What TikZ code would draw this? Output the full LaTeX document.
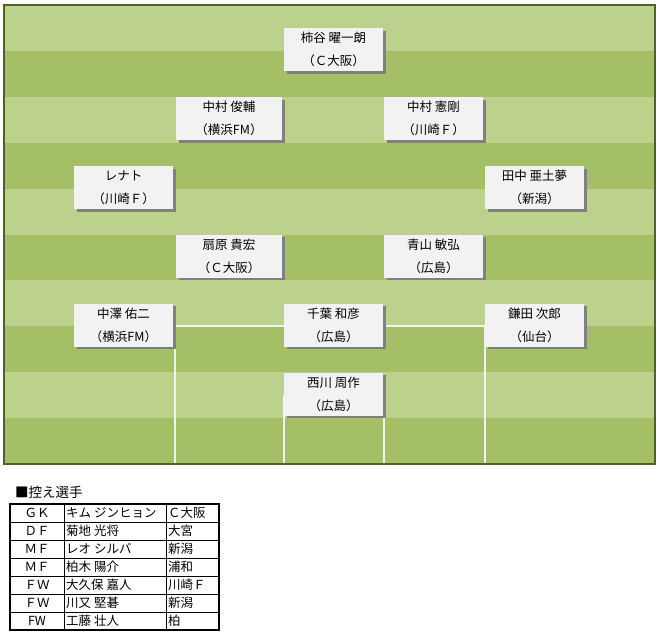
\documentclass[tikz,border=0pt]{standalone}
\usepackage{fontspec}
\newfontfamily\jp{Noto Sans CJK JP}
\usetikzlibrary{shadows}
\definecolor{lightg}{HTML}{BCD28C}
\definecolor{darkg}{HTML}{A5BF67}
\definecolor{fieldborder}{HTML}{4F6228}
\definecolor{boxfill}{HTML}{F2F2F2}
\definecolor{shadowc}{HTML}{808080}
\definecolor{linec}{HTML}{F2F2F2}
\begin{document}
\begin{tikzpicture}[x=1pt,y=-1pt,
  pbox/.style={fill=boxfill, minimum width=99pt, minimum height=43pt, inner sep=0pt,
    align=center, font=\jp\fontsize{12.5}{23}\selectfont,
    general shadow={fill=shadowc, shadow xshift=2.5pt, shadow yshift=-2.5pt}},
  wbox/.style={pbox, minimum width=106pt},
  fieldline/.style={draw=linec, line width=1.6pt},
  tcell/.style={inner sep=0pt, font=\jp\fontsize{12.5}{14}\selectfont},
  tleft/.style={tcell, anchor=west},
  thin/.style={line width=0.8pt},
  thick/.style={line width=2pt}]
\useasboundingbox (0,0) rectangle (660,637);
\fill[white] (0,0) rectangle (660,637);
% field stripes
\foreach \i in {0,...,9} {
  \pgfmathsetmacro{\ya}{5+45.9*\i}
  \pgfmathsetmacro{\yb}{5+45.9*(\i+1)}
  \ifodd\i
    \fill[darkg] (4,\ya) rectangle (655,\yb);
  \else
    \fill[lightg] (4,\ya) rectangle (655,\yb);
  \fi
}
% penalty and goal area lines
\draw[fieldline] (175,464) -- (175,326) -- (485,326) -- (485,464);
\draw[fieldline] (284,464) -- (284,395);
\draw[fieldline] (384,464) -- (384,395);
\draw[draw=fieldborder, line width=1.2pt] (4,5) rectangle (655,464);
% players
\node[pbox] (kakitani)  at (333.5,49.5) {柿谷 曜一朗\\（Ｃ大阪）};
\node[wbox] (nakamuraS) at (229,118.5) {中村 俊輔\\（横浜FM）};
\node[pbox] (nakamuraK) at (433.5,118.5) {中村 憲剛\\（川崎Ｆ）};
\node[pbox] (renato)    at (123.5,187.5) {レナト\\（川崎Ｆ）};
\node[pbox] (tanaka)    at (534.5,187.5) {田中 亜土夢\\（新潟）};
\node[wbox] (ogihara)   at (229,256) {扇原 貴宏\\（Ｃ大阪）};
\node[pbox] (aoyama)    at (433.5,256) {青山 敏弘\\（広島）};
\node[pbox] (nakazawa)  at (123.5,325) {中澤 佑二\\（横浜FM）};
\node[pbox] (chiba)     at (333.5,325) {千葉 和彦\\（広島）};
\node[pbox] (kamata)    at (534.5,325) {鎌田 次郎\\（仙台）};
\node[pbox] (nishikawa) at (333.5,394) {西川 周作\\（広島）};
% substitutes
\node[anchor=west, inner sep=0pt, font=\jp\fontsize{13.5}{15}\selectfont] (title) at (15,492) {■控え選手};
\foreach \r in {1,...,6} {\draw[thin] (10,504+18*\r) -- (219,504+18*\r);}
\draw[thin] (64,504) -- (64,630);
\draw[thin] (166,504) -- (166,630);
\draw[thick] (10,504) rectangle (219,630);
\foreach \p/\n/\c [count=\k from 0] in {ＧＫ/キム ジンヒョン/Ｃ大阪, ＤＦ/菊地 光将/大宮, ＭＦ/レオ シルバ/新潟, ＭＦ/柏木 陽介/浦和, ＦＷ/大久保 嘉人/川崎Ｆ, ＦＷ/川又 堅碁/新潟, FW/工藤 壮人/柏} {
  \node[tcell] (pos\k) at (37,513+18*\k) {\p};
  \node[tleft] (nam\k) at (66,513+18*\k) {\n};
  \node[tleft] (clb\k) at (168,513+18*\k) {\c};
}
\end{tikzpicture}
\end{document}
